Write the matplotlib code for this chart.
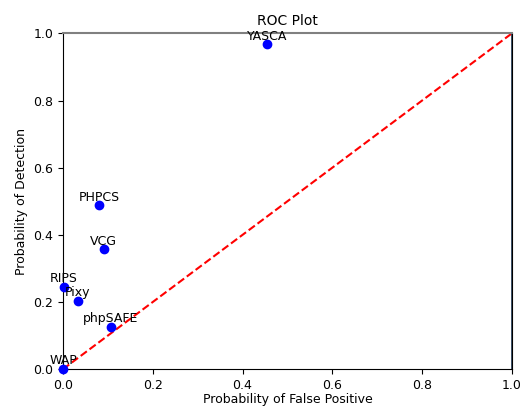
import numpy as np
import matplotlib.pyplot as plt

plt.rcParams["font.size"] = 9

tools = ["YASCA", "PHPCS", "VCG", "RIPS", "Pixy", "phpSAFE", "WAP"]
pfp = [0.454, 0.080, 0.091, 0.002, 0.033, 0.107, 0.0]
pd_ = [0.967, 0.488, 0.357, 0.245, 0.203, 0.125, 0.0]

fig, ax = plt.subplots(figsize=(5.25, 4.07), dpi=100)
ax.plot(pfp, pd_, "bo", clip_on=False, zorder=3)
for name, x, y in zip(tools, pfp, pd_):
    ax.text(x, y + 0.005, name, ha="center", va="bottom")

ax.plot([0, 1], [0, 1], "r--")
ax.axvline(1.0, color="#1c3550", lw=1.2)
ax.spines["top"].set_color("gray")
ax.spines["top"].set_linewidth(1.5)

ax.set_xlim(0, 1)
ax.set_ylim(0, 1)
ax.set_title("ROC Plot", fontsize=10)
ax.set_xlabel("Probability of False Positive", labelpad=1)
ax.set_ylabel("Probability of Detection")

plt.subplots_adjust(left=0.12, right=0.975, top=0.918, bottom=0.093)
plt.savefig("out.png")
